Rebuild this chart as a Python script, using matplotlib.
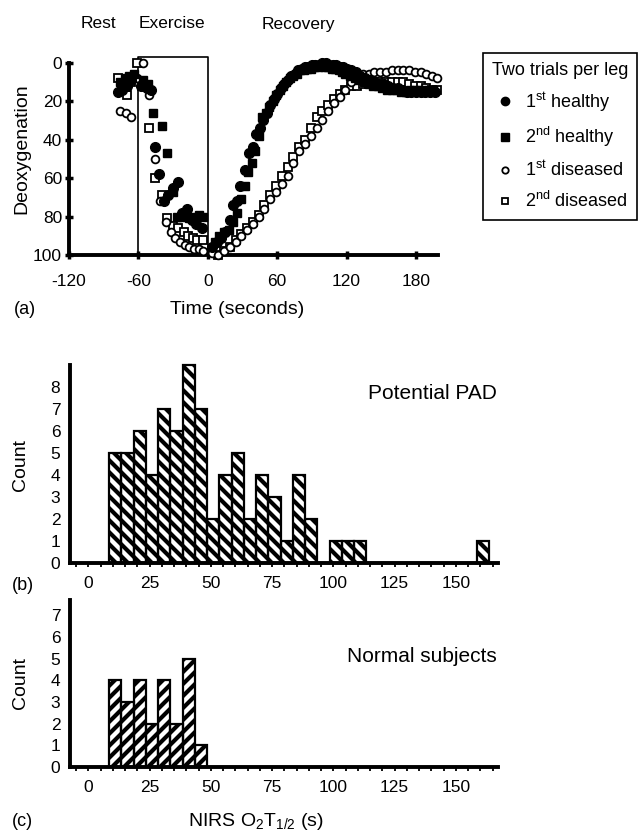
import numpy as np
import matplotlib
matplotlib.use('Agg')
import matplotlib.pyplot as plt
from matplotlib.lines import Line2D
from matplotlib.collections import LineCollection

plt.rcParams['font.family'] = ['Liberation Sans', 'DejaVu Sans']
plt.rcParams['mathtext.fontset'] = 'custom'
plt.rcParams['mathtext.rm'] = 'Liberation Sans'
plt.rcParams['mathtext.it'] = 'Liberation Sans:italic'
plt.rcParams['mathtext.bf'] = 'Liberation Sans:bold'
plt.rcParams['axes.unicode_minus'] = False

# ---------------- data: panel (a) ----------------
h1_t = [-78, -74, -70, -66, -58, -53, -49, -46, -42, -38, -34, -30, -26, -22, -18, -14, -10, -5,
        4, 8, 11, 15, 19, 22, 25, 28, 32, 36, 39, 42, 45, 48, 51, 54, 57, 60, 63, 66, 69, 72, 75,
        78, 81, 84, 87, 90, 93, 96, 99, 102, 105, 108, 111, 114, 117, 120,
        124, 128, 132, 136, 140, 144, 148, 152, 156, 160, 164, 168, 172, 176, 180, 184, 188, 192, 196]
h1_y = [15, 14, 12, 9, 12, 13, 14, 44, 58, 72, 69, 65, 62, 78, 76, 82, 84, 86,
        96, 93, 91, 88, 82, 74, 72, 64, 56, 47, 44, 37, 34, 30, 26, 22, 19, 16, 13, 11, 9, 7, 6,
        4, 3, 2, 2, 1, 1, 1, 0, 0, 1, 1, 1, 2, 2, 3,
        4, 5, 7, 8, 9, 10, 11, 11, 12, 13, 13, 14, 15, 15, 15, 15, 15, 15, 15]

h2_t = [-76, -72, -68, -64, -56, -52, -47, -40, -35, -30, -27, -23, -20, -16, -12, -8, -4,
        6, 10, 14, 18, 22, 25, 29, 32, 35, 38, 41, 44, 47, 50, 53, 56, 59, 62, 65, 68, 71, 74,
        77, 80, 83, 86, 89, 92, 95, 98, 101, 104, 107, 110, 113, 116, 119,
        123, 127, 131, 135, 139, 143, 147, 151, 155, 159, 163, 167, 171, 175, 179, 183, 187, 191, 195]
h2_y = [10, 8, 7, 6, 9, 11, 26, 33, 47, 67, 80, 80, 79, 81, 80, 79, 80,
        93, 90, 88, 87, 83, 78, 71, 64, 57, 52, 46, 38, 28, 26, 23, 20, 17, 14, 12, 10, 8, 7,
        6, 4, 4, 3, 3, 2, 2, 1, 2, 2, 3, 3, 4, 5, 6,
        7, 8, 9, 10, 11, 12, 12, 13, 14, 14, 14, 15, 15, 14, 14, 14, 14, 14, 14]

d1_t = [-76, -71, -66, -61, -56, -51, -46, -41, -36, -32, -28, -24, -20, -16, -12, -8, -4,
        4, 9, 14, 19, 24, 29, 34, 39, 44, 49, 54, 59, 64, 69, 74, 79, 84, 89, 94, 99, 104,
        109, 114, 119, 124, 129, 134, 139, 144, 149, 154, 159, 164, 169, 174, 179, 184, 189, 194, 198]
d1_y = [25, 26, 28, 8, 0, 17, 50, 72, 83, 88, 91, 93, 95, 96, 97, 97, 98,
        99, 100, 98, 96, 93, 90, 87, 84, 80, 76, 71, 67, 63, 59, 52, 46, 42, 38, 34, 30, 25,
        21, 18, 14, 10, 7, 6, 6, 5, 5, 5, 4, 4, 4, 4, 5, 5, 6, 7, 8]

d2_t = [-78, -74, -70, -66, -61, -57, -51, -46, -40, -35, -30, -26, -21, -17, -13, -9, -4,
        4, 9, 14, 19, 24, 29, 34, 39, 44, 49, 54, 59, 64, 69, 74, 79, 84, 89, 94, 99, 104,
        109, 114, 119, 124, 129, 134, 139, 144, 149, 154, 159, 164, 169, 174, 179, 184, 189, 194, 198]
d2_y = [8, 13, 17, 10, 0, 12, 34, 60, 69, 81, 85, 86, 88, 90, 91, 92, 92,
        98, 100, 98, 96, 92, 89, 86, 83, 79, 74, 69, 64, 59, 54, 49, 44, 40, 34, 28, 25, 22,
        19, 16, 14, 12, 12, 11, 11, 10, 10, 10, 10, 10, 10, 11, 12, 12, 13, 14, 14]

series_labels = ['1$^{\\rm st}$ healthy', '2$^{\\rm nd}$ healthy',
                 '1$^{\\rm st}$ diseased', '2$^{\\rm nd}$ diseased']
phase_labels = ['Rest', 'Exercise', 'Recovery']
a_xticks = [-120, -60, 0, 60, 120, 180]
a_yticks = [0, 20, 40, 60, 80, 100]

# ---------------- data: panels (b), (c) ----------------
bin_width = 5
first_bin_start = 8.5
counts_pad = [5, 5, 6, 4, 7, 6, 9, 7, 2, 4, 5, 2, 4, 3, 1, 4, 2, 0, 1, 1, 1,
              0, 0, 0, 0, 0, 0, 0, 0, 0, 1]
counts_normal = [4, 3, 4, 2, 4, 2, 5, 1]
hist_xticks = [0, 25, 50, 75, 100, 125, 150]

W, H = 642, 831
fig = plt.figure(figsize=(W / 100, H / 100), dpi=100)


def ax_px(l, t, r, b):
    return fig.add_axes([l / W, 1 - b / H, (r - l) / W, (b - t) / H])


def ftext(x, y, s, **kw):
    return fig.text(x / W, 1 - y / H, s, **kw)


# ================= panel (a) =================
ax1 = ax_px(69, 57, 438, 255)
ax1.set_xlim(-120, 199)
ax1.set_ylim(100, -3)
for s in ['top', 'right']:
    ax1.spines[s].set_visible(False)
ax1.spines['left'].set_bounds(0, 100)
for s in ['left', 'bottom']:
    ax1.spines[s].set_linewidth(2.8)
ax1.set_xticks(a_xticks)
ax1.set_yticks(a_yticks)
ax1.tick_params(axis='both', direction='inout', length=6, width=2.5, labelsize=12.5)
ax1.tick_params(axis='x', pad=11)
ax1.tick_params(axis='y', pad=2)

# exercise box
ax1.plot([-60, -60, 0, 0], [100, -3, -3, 100], color='black', lw=1.2, zorder=1, clip_on=False)

st = dict(linestyle='none', clip_on=False, color='black')
ax1.plot(d2_t, d2_y, marker='s', ms=5.3, mfc='white', mec='black', mew=1.3, zorder=3, **st)
ax1.plot(d1_t, d1_y, marker='o', ms=5.6, mfc='white', mec='black', mew=1.3, zorder=3, **st)
ax1.plot(h2_t, h2_y, marker='s', ms=6.3, mfc='black', mec='black', zorder=4, **st)
ax1.plot(h1_t, h1_y, marker='o', ms=7.0, mfc='black', mec='black', zorder=4, **st)

ftext(98, 24, phase_labels[0], ha='center', va='center', fontsize=12.5)
ftext(172, 24, phase_labels[1], ha='center', va='center', fontsize=12.5)
ftext(298, 24, phase_labels[2], ha='center', va='center', fontsize=12.5)
ftext(237, 309, 'Time (seconds)', ha='center', va='center', fontsize=14)
ftext(22, 149, 'Deoxygenation', ha='center', va='center', rotation=90, fontsize=14)
ftext(14, 310, '(a)', ha='left', va='center', fontsize=13)

handles = [
    Line2D([], [], linestyle='none', marker='o', ms=6.0, mfc='black', mec='black'),
    Line2D([], [], linestyle='none', marker='s', ms=5.2, mfc='black', mec='black'),
    Line2D([], [], linestyle='none', marker='o', ms=4.6, mfc='white', mec='black', mew=1.3),
    Line2D([], [], linestyle='none', marker='s', ms=4.6, mfc='white', mec='black', mew=1.3),
]
leg = fig.legend(handles, series_labels, loc='upper left', bbox_to_anchor=(483 / W, 1 - 53 / H),
                 frameon=True, fancybox=False, edgecolor='black', framealpha=1,
                 fontsize=13, title='Two trials per leg', title_fontsize=13,
                 alignment='left', handlelength=1.4, handletextpad=0.45,
                 labelspacing=0.62, borderpad=0.5, borderaxespad=0)
leg.get_frame().set_linewidth(1.2)


# ================= histograms =================
def hatch_bars(ax, rects, sign, period, lw):
    inv = ax.transData.inverted()
    for r in rects:
        if r.get_height() <= 0:
            continue
        x0, y0 = r.get_x(), r.get_y()
        x1, y1 = x0 + r.get_width(), y0 + r.get_height()
        (X0, Y0), (X1, Y1) = ax.transData.transform([(x0, y0), (x1, y1)])
        w, h = X1 - X0, Y1 - Y0
        xa, xb = X0 - w - h - 5, X1 + w + h + 5
        segs = []
        if sign > 0:   # '\' lines : X + Y = c
            cmin, cmax = X0 + Y0, X1 + Y1
            for k in range(int(np.floor(cmin / period)) - 1, int(np.ceil(cmax / period)) + 2):
                c = k * period
                segs.append(inv.transform([(xa, c - xa), (xb, c - xb)]))
        else:          # '/' lines : X - Y = c
            cmin, cmax = X0 - Y1, X1 - Y0
            for k in range(int(np.floor(cmin / period)) - 1, int(np.ceil(cmax / period)) + 2):
                c = k * period
                segs.append(inv.transform([(xa, xa - c), (xb, xb - c)]))
        lc = LineCollection(segs, colors='black', linewidths=lw, zorder=2)
        ax.add_collection(lc, autolim=False)
        lc.set_clip_path(r)


def hist_panel(ax, counts, ytop, yticks, sign):
    ax.set_xlim(-7.5, 167.2)
    ax.set_ylim(0, ytop)
    for s in ['top', 'right']:
        ax.spines[s].set_visible(False)
    for s in ['left', 'bottom']:
        ax.spines[s].set_linewidth(2.8)
    lefts = first_bin_start + bin_width * np.arange(len(counts))
    face = ax.bar(lefts, counts, width=bin_width, align='edge', color='white',
                  edgecolor='none', zorder=1)
    ax.bar(lefts, counts, width=bin_width, align='edge', facecolor='none',
           edgecolor='black', linewidth=1.6, zorder=3, clip_on=False)
    hatch_bars(ax, face.patches, sign, 12.0, 3.0)
    ax.set_xticks(hist_xticks)
    ax.set_xticks(np.arange(-5, 170, 5), minor=True)
    ax.set_yticks(yticks)
    ax.tick_params(axis='x', which='both', direction='out', length=3, width=1.3,
                   labelsize=12.5, pad=6)
    ax.tick_params(axis='y', length=0, labelsize=12.5, pad=7)


axb = ax_px(70, 365, 498, 563)
hist_panel(axb, counts_pad, 9.0, list(range(0, 9)), +1)
axc = ax_px(70, 600, 498, 767)
hist_panel(axc, counts_normal, 7.7, list(range(0, 8)), -1)

ftext(497, 393, 'Potential PAD', ha='right', va='center', fontsize=15)
ftext(497, 657, 'Normal subjects', ha='right', va='center', fontsize=15)
ftext(20, 465, 'Count', ha='center', va='center', rotation=90, fontsize=14)
ftext(20, 683, 'Count', ha='center', va='center', rotation=90, fontsize=14)
ftext(12, 585, '(b)', ha='left', va='center', fontsize=13)
ftext(12, 826, '(c)', ha='left', va='baseline', fontsize=13)
ftext(256, 826, 'NIRS O$_2$T$_{1/2}$ (s)', ha='center', va='baseline', fontsize=14)

fig.savefig('out.png', dpi=100)
